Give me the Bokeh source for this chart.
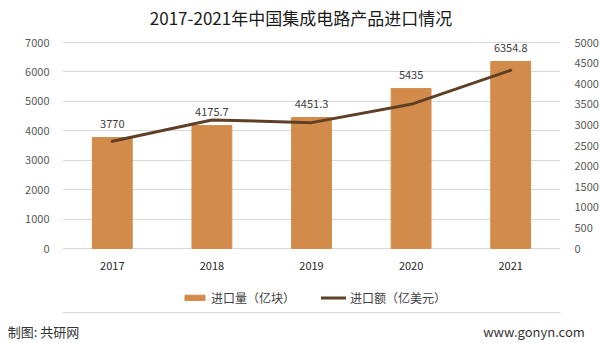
from bokeh.plotting import figure
from bokeh.models import (Range1d, LinearAxis, CategoricalAxis, FactorRange, Legend,
                          LegendItem, FixedTicker, ColumnDataSource, Label)
from bokeh.core.properties import value
from bokeh.embed import file_html
from bokeh.resources import INLINE

title = "2017-2021年中国集成电路产品进口情况"
years = ["2017", "2018", "2019", "2020", "2021"]
volume = [3770, 4175.7, 4451.3, 5435, 6354.8]          # 进口量（亿块）
volume_labels = ["3770", "4175.7", "4451.3", "5435", "6354.8"]
amount = [2601, 3121, 3055, 3500, 4326]                # 进口额（亿美元）
left_ticks = [0, 1000, 2000, 3000, 4000, 5000, 6000, 7000]
right_ticks = [0, 500, 1000, 1500, 2000, 2500, 3000, 3500, 4000, 4500, 5000]
series_names = ["进口量（亿块）", "进口额（亿美元）"]
source_text = "制图: 共研网"
site_text = "www.gonyn.com"

FONT = "Noto Sans CJK SC"
BAR = "#D38B4C"
LINE = "#5E4027"

# layout (canvas px)
W, H = 601, 343
FL, FR = 62, 562          # frame left / right
FBOT = 312                # frame bottom (= footer rule)
Y_TOP, Y_ZERO = 42, 248   # pixel rows of the top tick and of zero
fh = FBOT                 # frame height (frame starts at canvas top)

def span(top_val):
    k = top_val / (Y_ZERO - Y_TOP)
    return Range1d(-(FBOT - Y_ZERO) * k, top_val + Y_TOP * k)

p = figure(width=W, height=H, x_range=FactorRange(factors=years),
           y_range=span(left_ticks[-1]), output_backend="svg",
           toolbar_location=None, min_border_left=FL, min_border_right=W - FR,
           min_border_top=0, min_border_bottom=H - FBOT, outline_line_color=None,
           x_axis_location=None)
p.extra_y_ranges = {"amt": span(right_ticks[-1])}
foot_factors = [source_text + "\u3000" * 7, site_text]
p.extra_x_ranges = {"foot": FactorRange(factors=foot_factors, factor_padding=7.4)}

src = ColumnDataSource(dict(x=years, v=volume, lab=volume_labels, a=amount,
                            zero=[0] * len(years)))
bars = p.vbar(x="x", top="v", width=0.4, color=BAR, source=src)
line = p.line(x="x", y="a", y_range_name="amt", line_color=LINE, line_width=3,
              line_join="round", line_cap="round", source=src)
p.text(x="x", y="v", text="lab", source=src, text_align="center",
       text_baseline="middle", y_offset=-13.5, text_font=value(FONT),
       text_font_size="11px", text_color="#404040")
# category labels under the zero line
p.text(x="x", y="zero", text="x", source=src, text_align="center",
       text_baseline="middle", y_offset=17, text_font=value(FONT),
       text_font_size="11px", text_color="#262626")

# value axes
p.yaxis[0].ticker = FixedTicker(ticks=left_ticks)
rax = LinearAxis(y_range_name="amt", ticker=FixedTicker(ticks=right_ticks))
p.add_layout(rax, "right")
for ax in (p.yaxis[0], rax):
    ax.axis_line_color = None
    ax.major_tick_line_color = None
    ax.minor_tick_line_color = None
    ax.major_label_text_font = FONT
    ax.major_label_text_font_size = "11px"
    ax.major_label_text_color = "#595959"
p.yaxis[0].major_label_standoff = 7
rax.major_label_standoff = 8
p.xgrid.grid_line_color = None
p.ygrid.grid_line_color = "#D9D9D9"

# title
p.add_layout(Label(x=(W / 2) - FL, y=fh - 17, x_units="screen", y_units="screen",
                   text=title, text_font=FONT, text_font_size="17px",
                   text_color="#1A1A1A", text_align="center",
                   text_baseline="middle"))

# legend
leg = Legend(items=[LegendItem(label=series_names[0], renderers=[bars]),
                    LegendItem(label=series_names[1], renderers=[line])],
             orientation="horizontal", location=(120, FBOT - 306),
             padding=0, margin=0,
             spacing=26, glyph_width=25, glyph_height=7, label_standoff=4,
             border_line_color=None, background_fill_alpha=0,
             label_text_font=FONT, label_text_font_size="12px",
             label_text_color="#404040")
p.add_layout(leg, "center")

# footer: rule + source / site texts
fax = CategoricalAxis(x_range_name="foot")
fax.axis_line_color = "#D9D9D9"
fax.major_tick_line_color = None
fax.minor_tick_line_color = None
fax.major_tick_out = 0
fax.major_tick_in = 0
fax.major_label_standoff = 9
fax.major_label_text_font = FONT
fax.major_label_text_font_size = "13px"
fax.major_label_text_color = "#333333"
p.add_layout(fax, "below")

open("out.html", "w").write(file_html(p, INLINE))
